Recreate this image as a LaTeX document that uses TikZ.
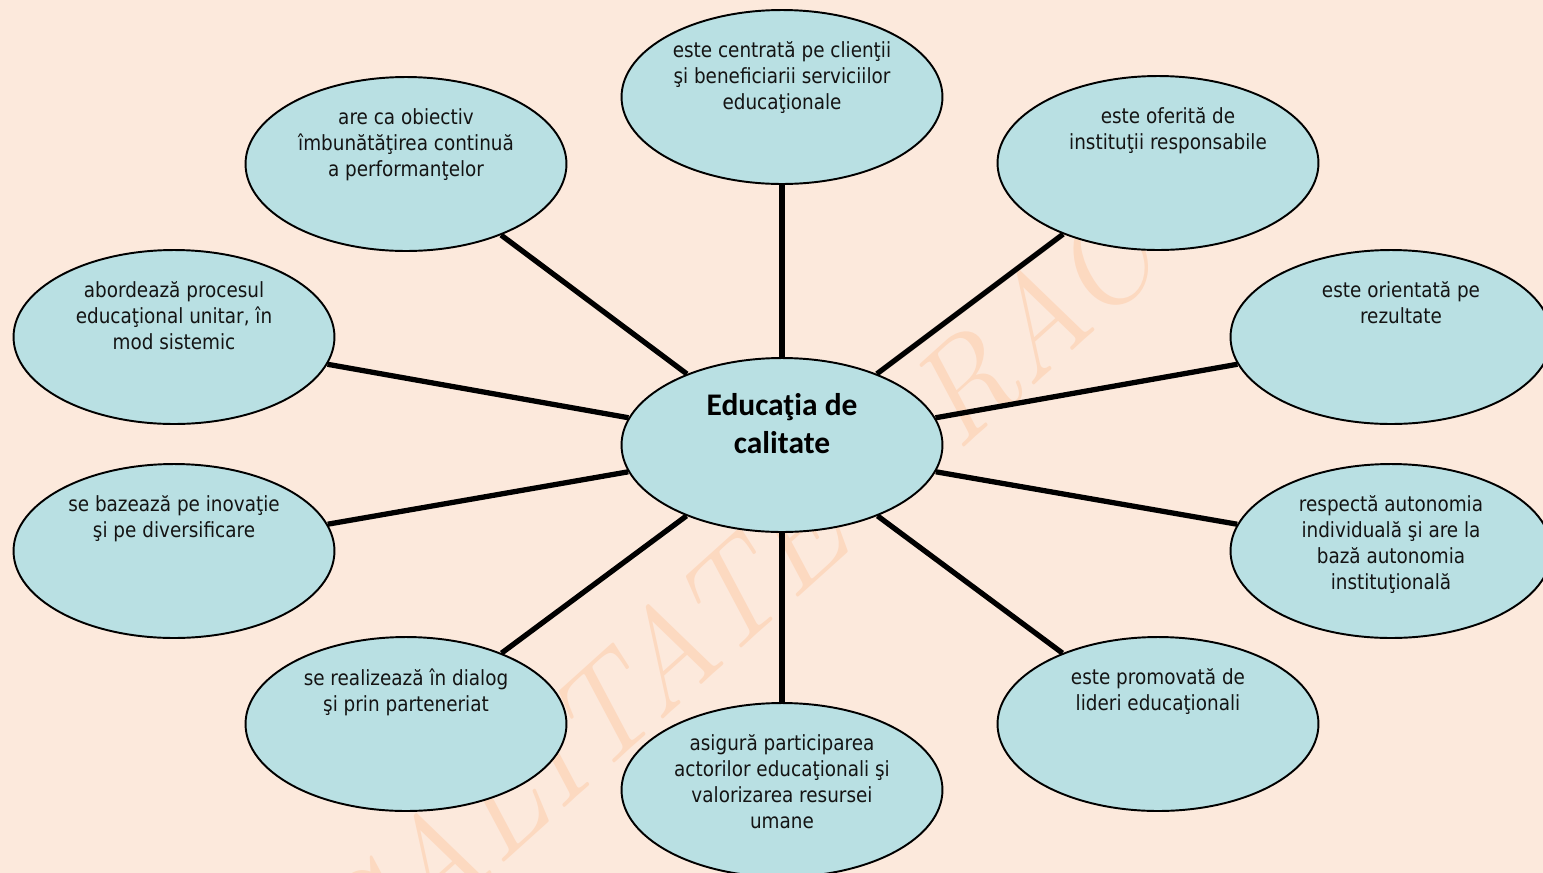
\documentclass[tikz,border=0pt]{standalone}
\usepackage{fontspec}
\newfontfamily\bodyfont[FakeStretch=0.88]{DejaVu Sans}
\newfontfamily\headfont{Carlito}
\usetikzlibrary{backgrounds}
\usetikzlibrary{shapes.geometric,positioning}

\definecolor{bgpeach}{RGB}{252,233,220}
\definecolor{wmorange}{RGB}{252,217,192}
\definecolor{cellblue}{RGB}{185,224,227}

\begin{document}
\begin{tikzpicture}[x=0.02cm, y=-0.02cm,
    cell/.style={ellipse, draw=black, line width=1.1pt, fill=cellblue,
      minimum width=6.42cm, minimum height=3.48cm, inner sep=0pt},
    spoke/.style={line width=3pt},
    txt/.style={anchor=north, align=center, inner sep=0pt, text=black!92,
      font=\bodyfont\fontsize{11.9}{14.8}\selectfont},
    head/.style={anchor=north, align=center, inner sep=0pt,
      font=\headfont\bfseries\fontsize{17.9}{21.5}\selectfont},
    wmark/.style={text=wmorange, font=\itshape\fontsize{76}{76}\selectfont}]

      \useasboundingbox (0,0) rectangle (1543,873);
      \clip (0,0) rectangle (1543,873);

      % centre and the ten ellipses round it
      \node[cell] (c0)  at ( 782,445) {};
      \node[cell] (s1)  at ( 782, 97) {};
      \node[cell] (s2)  at (1158,163) {};
      \node[cell] (s3)  at (1391,337) {};
      \node[cell] (s4)  at (1391,551) {};
      \node[cell] (s5)  at (1158,724) {};
      \node[cell] (s6)  at ( 782,790) {};
      \node[cell] (s7)  at ( 406,724) {};
      \node[cell] (s8)  at ( 174,551) {};
      \node[cell] (s9)  at ( 174,337) {};
      \node[cell] (s10) at ( 406,164) {};

      \node[head, below = 0.72cm of c0.north] (h0) {Educaţia de\\calitate};

      \node[txt, below = 0.64cm of s1.north] (t1) {este centrată pe clienţii\\şi beneficiarii serviciilor\\educaţionale};
      \node[txt, below = 0.64cm of s2.north, xshift=0.2cm] (t2) {este oferită de\\instituţii responsabile};
      \node[txt, below = 0.64cm of s3.north, xshift=0.2cm] (t3) {este orientată pe\\rezultate};
      \node[txt, below = 0.64cm of s4.north] (t4) {respectă autonomia\\individuală şi are la\\bază autonomia\\instituţională};
      \node[txt, below = 0.64cm of s5.north] (t5) {este promovată de\\lideri educaţionali};
      \node[txt, below = 0.64cm of s6.north] (t6) {asigură participarea\\actorilor educaţionali şi\\valorizarea resursei\\umane};
      \node[txt, below = 0.64cm of s7.north] (t7) {se realizează în dialog\\şi prin parteneriat};
      \node[txt, below = 0.64cm of s8.north] (t8) {se bazează pe inovaţie\\şi pe diversificare};
      \node[txt, below = 0.64cm of s9.north] (t9) {abordează procesul\\educaţional unitar, în\\mod sistemic};
      \node[txt, below = 0.64cm of s10.north] (t10) {are ca obiectiv\\îmbunătăţirea continuă\\a performanţelor};

      \begin{pgfonlayer}{background}
        \begin{scope}
          \clip (0,0) rectangle (1543,873);
          \fill[bgpeach] (0,0) rectangle (1543,873);
          \node[wmark, rotate=42] (wm) at (783,549) {CALITATE PRACTI};
          \foreach \i in {1,...,10}
            \draw[spoke] (c0) -- (s\i);
        \end{scope}
      \end{pgfonlayer}
    \end{tikzpicture}
\end{document}
